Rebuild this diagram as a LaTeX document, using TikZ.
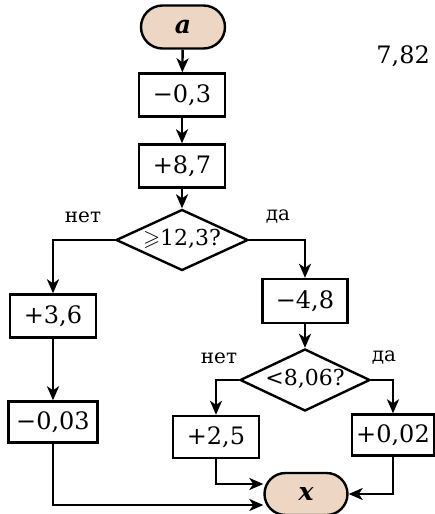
\documentclass[tikz,border=0pt]{standalone}
\usepackage{amssymb}
\usepackage{fontspec}
\setmainfont{DejaVu Serif}
\usetikzlibrary{shapes.geometric,shapes.misc,arrows.meta}
\definecolor{termfill}{RGB}{238,214,196}

\begin{document}
\begin{tikzpicture}[x=1pt, y=-1pt,
    term/.style={rounded rectangle, draw, fill=termfill, line width=2.4pt, minimum width=84pt, minimum height=43pt, inner sep=0pt, font=\fontsize{25}{29}\selectfont\bfseries\itshape},
    process/.style={rectangle, draw, line width=2.4pt, minimum width=86pt, minimum height=43pt, inner sep=0pt, font=\fontsize{24}{28}\selectfont},
    decision/.style={diamond, aspect=2.2, draw, line width=2.4pt, minimum width=132pt, minimum height=61pt, inner sep=0pt, text height=12pt, text depth=2pt, font=\fontsize{22}{26}\selectfont},
    answer/.style={font=\fontsize{20}{24}\selectfont},
    line/.style={draw, -{Stealth[length=14pt, width=12pt, inset=4pt]}, line width=2.4pt}]
    \useasboundingbox (0,0) rectangle (434,514);

    % Top: start and first steps
    \node [term] (start) at (183,27) {a};
    \node [process] (sub1) at (182,95) {−0,3};
    \node [process] (add1) at (182,166) {+8,7};
    \node [decision] (cond1) at (182,240) {$\geqslant$12,3?};
    \node [answer] (no1) at (83,217) {нет};
    \node [answer] (yes1) at (278,217) {да};

    % Left branch
    \node [process] (add2) at (53,316) {+3,6};
    \node [process, minimum width=89pt, minimum height=41pt] (sub2) at (53,422) {−0,03};

    % Right branch
    \node [process, minimum width=85pt, minimum height=44pt] (sub3) at (305,301) {−4,8};
    \node [decision, minimum width=130pt, minimum height=62pt] (cond2) at (305,380) {<8,06?};
    \node [answer] (no2) at (219,358) {нет};
    \node [answer] (yes2) at (384,358) {да};
    \node [process, minimum height=42pt] (add3) at (216,437) {+2,5};
    \node [process, minimum width=82pt, minimum height=41pt] (add4) at (393,435) {+0,02};

    % End
    \node [term, minimum width=83pt, minimum height=42pt] (finish) at (306,494) {x};

    % Text at the page edge
    \node [anchor=east, inner sep=0pt, font=\fontsize{24}{28}\selectfont] (rest) at (430,56) {7,82};

    % Connectors
    \draw [line] (start) -- (sub1);
    \draw [line] (sub1) -- (add1);
    \draw [line] (add1) -- (cond1);
    \draw [line] (cond1.west) -| (add2.north);
    \draw [line] (add2) -- (sub2);
    \draw [line] (cond1.east) -| (sub3.north);
    \draw [line] (sub3) -- (cond2);
    \draw [line] (cond2.west) -| (add3.north);
    \draw [line] (cond2.east) -| (add4.north);
    \draw [line] (sub2.south) |- ([yshift=-11pt]finish.west);
    \draw [line] (add3.south) |- ([yshift=10pt]finish.west);
    \draw [line] (add4.south) |- (finish.east);
\end{tikzpicture}
\end{document}
